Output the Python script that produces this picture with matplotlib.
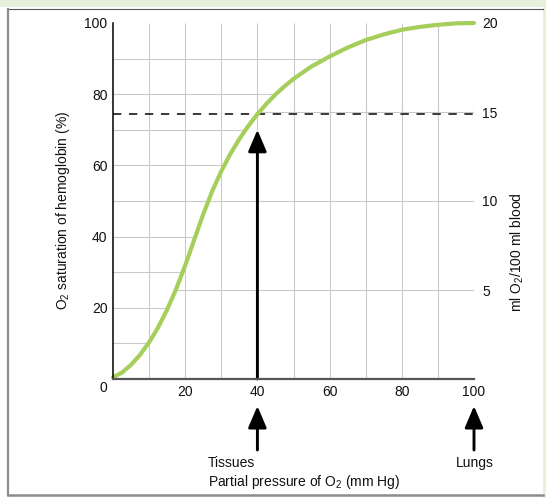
import numpy as np
import matplotlib
matplotlib.use('Agg')
import matplotlib.pyplot as plt
from matplotlib.patches import FancyArrowPatch, Rectangle
from matplotlib.lines import Line2D
from matplotlib.transforms import blended_transform_factory

plt.rcParams['font.family'] = ['Liberation Sans', 'DejaVu Sans']
plt.rcParams['mathtext.fontset'] = 'custom'
plt.rcParams['mathtext.rm'] = 'Liberation Sans'
plt.rcParams['mathtext.it'] = 'Liberation Sans:italic'
plt.rcParams['mathtext.bf'] = 'Liberation Sans:bold'
plt.rcParams['lines.scale_dashes'] = False

# ---- data ----
po2 = [0, 2.5, 5, 7.5, 10, 12.5, 15, 17.5, 20, 22.5, 25, 27.5, 30, 32.5, 35, 37.5,
       40, 42.5, 45, 47.5, 50, 55, 60, 65, 70, 75, 80, 85, 90, 95, 100]
saturation = [0.5, 1.8, 4.0, 6.8, 10.3, 14.5, 19.5, 25.3, 31.9, 39.1, 46.3, 52.8, 58.4,
              63.2, 67.4, 71.1, 74.4, 77.3, 79.9, 82.2, 84.3, 87.8, 90.6, 93.1, 95.2,
              96.8, 98.1, 98.9, 99.5, 99.9, 100]
x_ticks = [20, 40, 60, 80, 100]
left_ticks = [20, 40, 60, 80, 100]
right_ticks = [5, 10, 15, 20]
left_grid = [10, 20, 30, 40, 50, 60, 70, 80, 90]
right_grid_ml = [5, 10, 15]
vert_grid = [10, 20, 30, 40, 50, 60, 70, 80, 90, 100]
tissue_po2 = 40
lung_po2 = 100
tissue_sat = 74.4
arrow_top = 70
ml_max = 20

W, H = 546, 498
fx = lambda px: px / W
fy = lambda py: 1 - py / H

fig = plt.figure(figsize=(W / 100, H / 100), dpi=100, facecolor='white')

# frame decorations
fig.patches.append(Rectangle((0, fy(7)), 1, 7 / H, transform=fig.transFigure,
                             facecolor='#e6f0dc', edgecolor='none', zorder=0))
fig.patches.append(Rectangle((fx(543), 0), 3 / W, 1, transform=fig.transFigure,
                             facecolor='#e6f0dc', edgecolor='none', zorder=0))
fig.lines.append(Line2D([fx(8), fx(543)], [fy(9), fy(9)], transform=fig.transFigure,
                        color='#555555', lw=0.8))
fig.lines.append(Line2D([fx(8), fx(8)], [fy(9), fy(495)], transform=fig.transFigure,
                        color='#8c8c8c', lw=1.6))
fig.lines.append(Line2D([fx(8), fx(543)], [fy(495), fy(495)], transform=fig.transFigure,
                        color='#8c8c8c', lw=1.8))

ax = fig.add_axes([fx(113), fy(379), 361 / W, 356 / H])
ax.set_xlim(0, 100)
ax.set_ylim(0, 100)
ax.set_facecolor('none')

gcol = '#c9c9c9'
ax.vlines(vert_grid, 0, 100, colors=gcol, lw=0.8, zorder=1)
for lv in left_grid:
    cross = np.interp(lv, saturation, po2)
    ax.hlines(lv, 0, cross, colors=gcol, lw=0.8, zorder=1)
for ml in right_grid_ml:
    pct = ml * 100 / ml_max
    cross = np.interp(pct, saturation, po2)
    ax.hlines(pct, cross, 100, colors=gcol, lw=0.8, zorder=1)

ax.hlines(tissue_sat, 0, 100, colors='#222222', lw=1.25, linestyles=(0, (6, 5.5)), zorder=3)

ax.plot(po2, saturation, color='#a5cf5a', lw=3, solid_capstyle='round',
        solid_joinstyle='round', clip_on=False, zorder=5)

astyle = '-|>,head_length=1.32,head_width=0.56'
ax.add_patch(FancyArrowPatch((tissue_po2, 0), (tissue_po2, arrow_top), arrowstyle=astyle,
                             mutation_scale=10, lw=2.1, color='black',
                             shrinkA=0, shrinkB=0, zorder=6, clip_on=False))
trans = blended_transform_factory(ax.transData, fig.transFigure)
for xp in [tissue_po2, lung_po2]:
    ax.add_patch(FancyArrowPatch((xp, fy(450)), (xp, fy(406)), transform=trans,
                                 arrowstyle=astyle, mutation_scale=10, lw=2.1,
                                 color='black', shrinkA=0, shrinkB=0, clip_on=False))

for s in ['top', 'right']:
    ax.spines[s].set_visible(False)
ax.spines['left'].set_color('black')
ax.spines['left'].set_linewidth(1.1)
ax.spines['bottom'].set_color('#555555')
ax.spines['bottom'].set_linewidth(1.6)
ax.spines['left'].set_zorder(7)
ax.spines['bottom'].set_zorder(7)

ax.set_xticks(x_ticks)
ax.set_xticklabels([str(v) for v in x_ticks])
ax.set_yticks(left_ticks)
ax.set_yticklabels([str(v) for v in left_ticks])
ax.tick_params(axis='x', length=0, pad=4, labelsize=10, labelcolor='#111111')
ax.tick_params(axis='y', length=0, pad=4, labelsize=10, labelcolor='#111111')

ax2 = ax.twinx()
ax2.set_ylim(0, ml_max)
ax2.set_yticks(right_ticks)
ax2.set_yticklabels([str(v) for v in right_ticks])
ax2.tick_params(axis='y', length=0, pad=6, labelsize=10, labelcolor='#111111')
for s in ax2.spines.values():
    s.set_visible(False)

fig.text(fx(103.5), fy(388), '0', ha='center', va='center', fontsize=10, color='#111111')
fig.text(fx(63), fy(210), 'O$_2$ saturation of hemoglobin (%)', rotation=90,
         ha='center', va='center', fontsize=10, color='#111111')
fig.text(fx(517), fy(252), 'ml O$_2$/100 ml blood', rotation=90,
         ha='center', va='center', fontsize=10, color='#111111')
fig.text(fx(208), fy(463), 'Tissues', ha='left', va='center', fontsize=10, color='#111111')
fig.text(fx(208), fy(482), 'Partial pressure of O$_2$ (mm Hg)', ha='left', va='center',
         fontsize=10, color='#111111')
fig.text(fx(475), fy(463), 'Lungs', ha='center', va='center', fontsize=10, color='#111111')

fig.savefig('out.png', dpi=100, facecolor='white')
